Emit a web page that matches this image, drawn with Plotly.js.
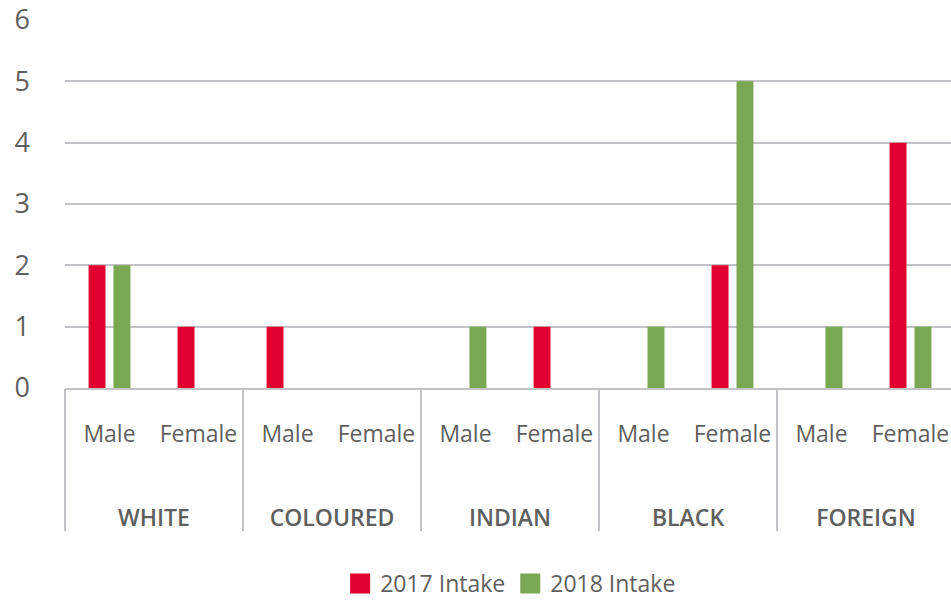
<!DOCTYPE html>
<html>
<head>
<meta charset="utf-8">
<script src="https://cdn.plot.ly/plotly-3.0.1.min.js"></script>
<style>html,body{margin:0;padding:0;background:#fff;}#chart{width:951px;height:605px;}</style>
</head>
<body>
<div id="chart"></div>
<script>
// Data
const groups = ["WHITE", "COLOURED", "INDIAN", "BLACK", "FOREIGN"];
const genders = ["Male", "Female"];
const intake2017 = [2, 1, 1, 0, 0, 1, 0, 2, 0, 4];
const intake2018 = [2, 0, 0, 0, 1, 0, 1, 5, 1, 1];
const seriesNames = ["2017 Intake", "2018 Intake"];
const yTicks = [0, 1, 2, 3, 4, 5, 6];

// Derived positions (slot index per group/gender)
const slotLabels = [];
groups.forEach(() => genders.forEach(g => slotLabels.push(g)));
const slotPos = slotLabels.map((_, i) => i);
const groupPos = groups.map((_, i) => i * genders.length + (genders.length - 1) / 2);
const dividerPos = groups.map((_, i) => i * genders.length - 0.5).concat([groups.length * genders.length - 0.5]);

const red = '#E10030';
const green = '#7AA852';
const grey = '#5f5f5f';
const lineGrey = '#C3C3C7';
const FONT = '"Open Sans", sans-serif';

const traces = [
  {type: 'bar', name: seriesNames[0], x: slotPos, y: intake2017, marker: {color: red}, showlegend: false, hoverinfo: 'y'},
  {type: 'bar', name: seriesNames[1], x: slotPos, y: intake2018, marker: {color: green}, showlegend: false, hoverinfo: 'y'},
  {type: 'scatter', mode: 'markers', name: seriesNames[0], x: [null], y: [null], marker: {symbol: 'square', size: 16, color: red, line: {color: red, width: 4}}},
  {type: 'scatter', mode: 'markers', name: seriesNames[1], x: [null], y: [null], marker: {symbol: 'square', size: 16, color: green, line: {color: green, width: 4}}},
  // invisible traces to activate overlay axes
  {type: 'scatter', mode: 'markers', x: [null], y: [null], xaxis: 'x2', showlegend: false, hoverinfo: 'skip'},
  {type: 'scatter', mode: 'markers', x: [null], y: [null], xaxis: 'x3', showlegend: false, hoverinfo: 'skip'}
];

const xr = [-0.5, -0.5 + 886 / 89];

const layout = {
  width: 951, height: 605,
  margin: {l: 65, r: 0, t: 20, b: 217},
  paper_bgcolor: '#fff', plot_bgcolor: '#fff',
  font: {family: FONT, color: grey},
  barmode: 'group', bargap: 0.44, bargroupgap: 0.32,
  showlegend: true,
  legend: {orientation: 'h', xref: 'paper', x: 0.503, xanchor: 'center', yref: 'container', y: 0, yanchor: 'bottom',
           font: {size: 23, color: grey, family: FONT}, itemwidth: 30, tracegroupgap: 0, borderwidth: 0},
  xaxis: {
    range: xr, tickmode: 'array', tickvals: slotPos, ticktext: slotLabels,
    ticks: '', showgrid: false, zeroline: false,
    showline: true, linecolor: lineGrey, linewidth: 2,
    tickfont: {size: 23, color: grey, family: FONT}, ticklabelstandoff: 24
  },
  xaxis2: {
    overlaying: 'x', matches: 'x', anchor: 'y', side: 'bottom',
    range: xr, tickmode: 'array', tickvals: groupPos, ticktext: groups,
    ticks: '', showgrid: false, zeroline: false, showline: false,
    tickfont: {size: 23, color: grey, family: FONT, weight: 600}, ticklabelstandoff: 114
  },
  xaxis3: {
    overlaying: 'x', matches: 'x', anchor: 'y', side: 'bottom',
    range: xr, tickmode: 'array', tickvals: dividerPos,
    ticks: 'outside', ticklen: 142, tickwidth: 2, tickcolor: lineGrey,
    showticklabels: false, showgrid: false, zeroline: false, showline: false
  },
  yaxis: {
    range: [0, 6], tickmode: 'array', tickvals: yTicks,
    showgrid: true, gridcolor: lineGrey, gridwidth: 2, zeroline: false,
    ticks: '', tickfont: {size: 27, color: grey, family: FONT}, ticklabelstandoff: 34
  }
};

Plotly.newPlot('chart', traces, layout, {displayModeBar: false, responsive: false});
</script>
</body>
</html>
